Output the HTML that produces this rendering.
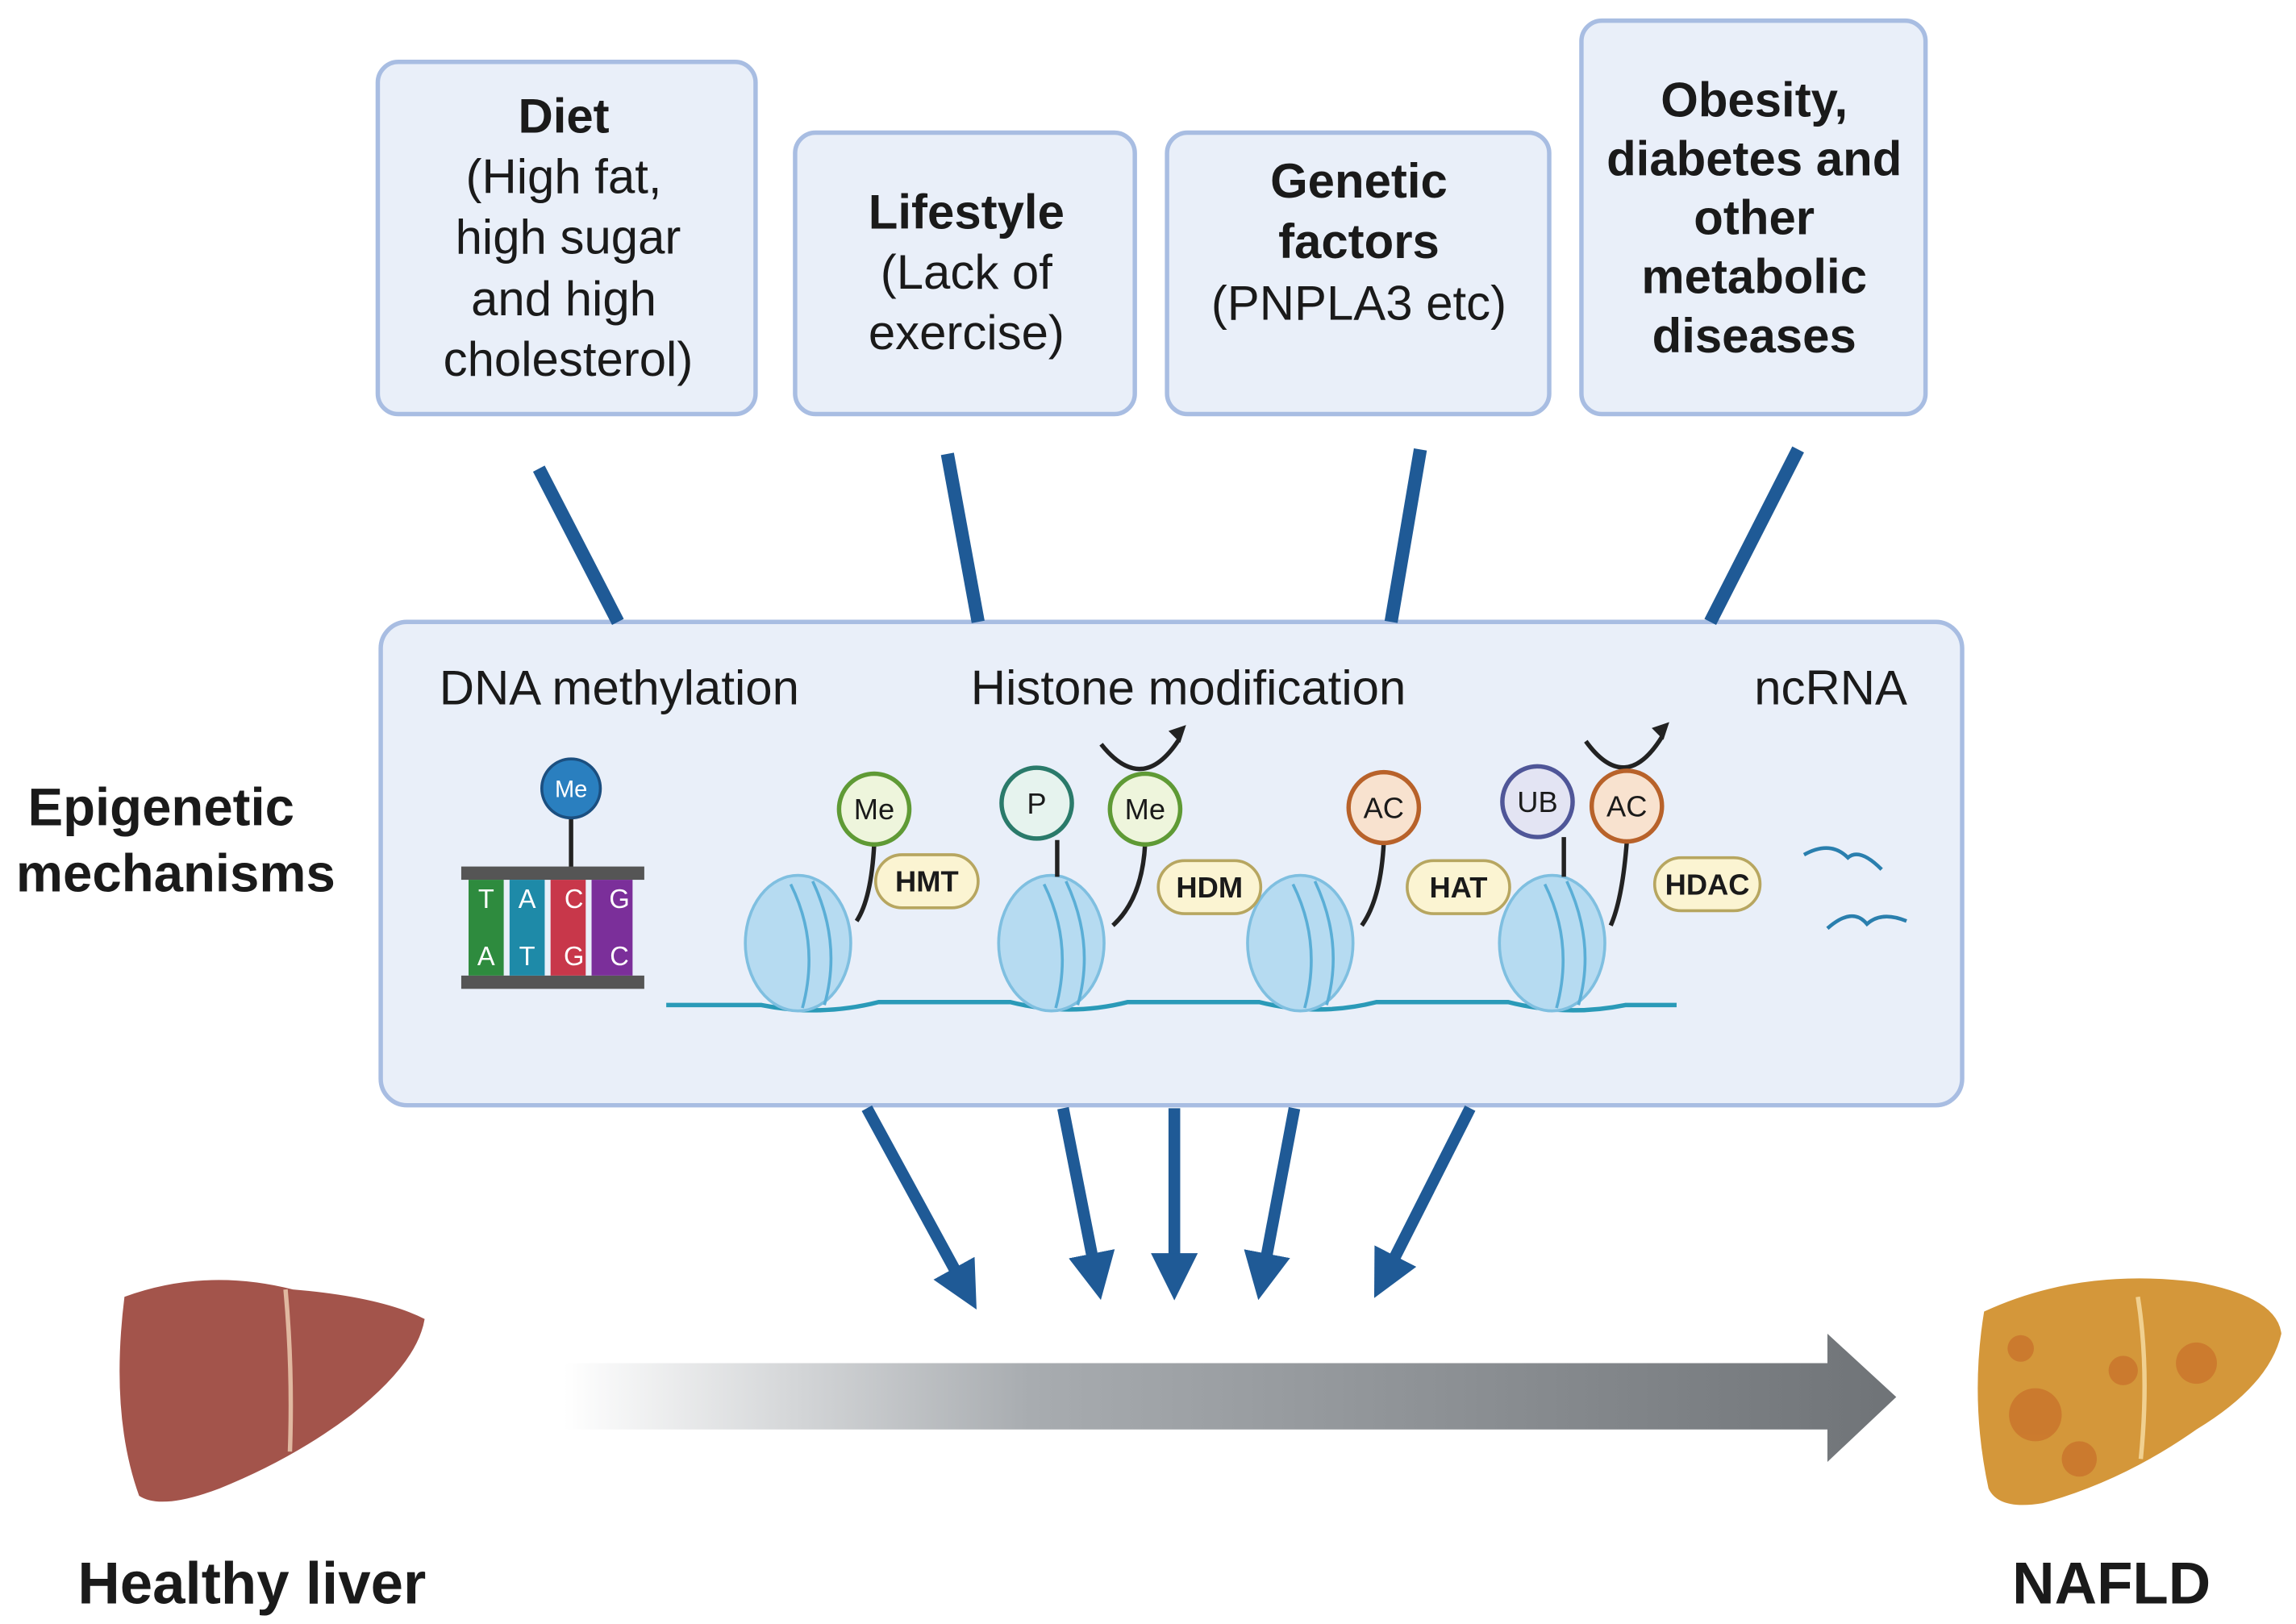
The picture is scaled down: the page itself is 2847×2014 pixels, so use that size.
<!DOCTYPE html>
<html><head><meta charset="utf-8"><style>
html,body{margin:0;padding:0;background:#fff;}
svg{display:block;}
text{font-family:"Liberation Sans",sans-serif;fill:#1a1a1a;}
.b{font-weight:bold;}
</style></head><body>
<svg width="2847" height="2014" viewBox="0 0 1568 1102" preserveAspectRatio="none" xmlns="http://www.w3.org/2000/svg">
<defs>
<linearGradient id="g" x1="0" x2="1" y1="0" y2="0">
<stop offset="0" stop-color="#ffffff"/><stop offset="0.35" stop-color="#a8acb0"/><stop offset="1" stop-color="#6f7377"/>
</linearGradient>
<marker id="ah" markerWidth="4" markerHeight="4" refX="2.2" refY="2" orient="auto" markerUnits="strokeWidth">
<path d="M0,0 L4,2 L0,4 Z" fill="#1f5a96"/></marker>
</defs>
<g fill="#e9eff9" stroke="#a8bde2" stroke-width="3">
<rect x="258" y="42" width="258" height="239" rx="14"/>
<rect x="543" y="90" width="232" height="191" rx="14"/>
<rect x="797" y="90" width="261" height="191" rx="14"/>
<rect x="1080" y="14" width="235" height="267" rx="14"/>
<rect x="260" y="422" width="1080" height="328" rx="18"/>
</g>
<g font-size="33" text-anchor="middle">
<text x="385" y="90" class="b">Diet</text>
<text x="385" y="131">(High fat,</text>
<text x="388" y="172">high sugar</text>
<text x="385" y="214">and high</text>
<text x="388" y="255">cholesterol)</text>
<text x="660" y="155" class="b">Lifestyle</text>
<text x="660" y="196">(Lack of</text>
<text x="660" y="237">exercise)</text>
<text x="928" y="134" class="b">Genetic</text>
<text x="928" y="175" class="b">factors</text>
<text x="928" y="217">(PNPLA3 etc)</text>
<text x="1198" y="79" class="b">Obesity,</text>
<text x="1198" y="119" class="b">diabetes and</text>
<text x="1198" y="159" class="b">other</text>
<text x="1198" y="199" class="b">metabolic</text>
<text x="1198" y="239" class="b">diseases</text>
</g>
<g stroke="#1f5a96" stroke-width="9">
<line x1="368" y1="318" x2="422" y2="422"/>
<line x1="647" y1="308" x2="668" y2="422"/>
<line x1="970" y1="305" x2="950" y2="422"/>
<line x1="1228" y1="305" x2="1168" y2="422"/>
</g>
<g stroke="#1f5a96" stroke-width="8" marker-end="url(#ah)">
<line x1="592" y1="752" x2="660" y2="876"/>
<line x1="726" y1="752" x2="749" y2="868"/>
<line x1="802" y1="752" x2="802" y2="868"/>
<line x1="884" y1="752" x2="862" y2="868"/>
<line x1="1004" y1="752" x2="945" y2="868"/>
</g>
<g font-size="33">
<text x="300" y="478">DNA methylation</text>
<text x="663" y="478">Histone modification</text>
<text x="1198" y="478">ncRNA</text>
</g>
<g text-anchor="middle">
<text x="110" y="560" font-size="36" class="b">Epigenetic</text>
<text x="120" y="605" font-size="36" class="b">mechanisms</text>
<text x="172" y="1088" font-size="40" class="b">Healthy liver</text>
<text x="1442" y="1088" font-size="40" class="b">NAFLD</text>
</g>
<line x1="390" y1="548" x2="390" y2="590" stroke="#222" stroke-width="3"/>
<circle cx="390" cy="535" r="20" fill="#2a7fbf" stroke="#1b4f80" stroke-width="2"/>
<text x="390" y="541" font-size="16" text-anchor="middle" style="fill:#fff">Me</text>
<rect x="315" y="588" width="125" height="9" fill="#555"/>
<rect x="315" y="662" width="125" height="9" fill="#555"/>
<rect x="320" y="597" width="24" height="65" fill="#2e8b3e"/>
<rect x="348" y="597" width="24" height="65" fill="#1e8aa8"/>
<rect x="376" y="597" width="24" height="65" fill="#c8374a"/>
<rect x="404" y="597" width="28" height="65" fill="#7b2f9a"/>
<g font-size="18" text-anchor="middle">
<text x="332" y="616" style="fill:#fff">T</text><text x="360" y="616" style="fill:#fff">A</text><text x="392" y="616" style="fill:#fff">C</text><text x="423" y="616" style="fill:#fff">G</text>
<text x="332" y="655" style="fill:#fff">A</text><text x="360" y="655" style="fill:#fff">T</text><text x="392" y="655" style="fill:#fff">G</text><text x="423" y="655" style="fill:#fff">C</text>
</g>
<path d="M455 682 L520 682 Q560 690 600 680 L690 680 Q730 690 770 680 L860 680 Q900 690 940 680 L1030 680 Q1070 690 1110 682 L1145 682" fill="none" stroke="#2a9ab8" stroke-width="3"/>
<g fill="#b6dbf1" stroke="#7fbfe0" stroke-width="2">
<ellipse cx="545" cy="640" rx="36" ry="46"/><ellipse cx="718" cy="640" rx="36" ry="46"/>
<ellipse cx="888" cy="640" rx="36" ry="46"/><ellipse cx="1060" cy="640" rx="36" ry="46"/>
</g>
<g stroke="#5aaed6" stroke-width="2" fill="none">
<path d="M540 600 Q560 640 548 684"/><path d="M555 598 Q575 640 563 682"/>
<path d="M713 600 Q733 640 721 684"/><path d="M728 598 Q748 640 736 682"/>
<path d="M883 600 Q903 640 891 684"/><path d="M898 598 Q918 640 906 682"/>
<path d="M1055 600 Q1075 640 1063 684"/><path d="M1070 598 Q1090 640 1078 682"/>
</g>
<g stroke="#222" stroke-width="3" fill="none">
<path d="M597 573 Q595 610 585 625"/><path d="M722 570 L722 595"/><path d="M782 573 Q780 610 760 628"/>
<path d="M945 572 Q943 610 930 628"/><path d="M1068 568 L1068 595"/><path d="M1111 571 Q1108 610 1100 628"/>
<path d="M752 505 Q780 540 805 502"/><path d="M1083 503 Q1110 540 1135 500"/>
</g>
<path d="M798 496 L810 492 L806 504 Z" fill="#222"/><path d="M1128 494 L1140 490 L1136 502 Z" fill="#222"/>
<g stroke-width="3">
<circle cx="597" cy="549" r="24" fill="#eef5dc" stroke="#5f9a35"/>
<circle cx="708" cy="545" r="24" fill="#e6f3ee" stroke="#2a7a6a"/>
<circle cx="782" cy="549" r="24" fill="#eef5dc" stroke="#5f9a35"/>
<circle cx="945" cy="548" r="24" fill="#f8e2cf" stroke="#b8622a"/>
<circle cx="1050" cy="544" r="24" fill="#e3e4f3" stroke="#4f5698"/>
<circle cx="1111" cy="547" r="24" fill="#f8e2cf" stroke="#b8622a"/>
</g>
<g fill="#fbf4d2" stroke="#b7a660" stroke-width="2">
<rect x="598" y="580" width="70" height="36" rx="18"/><rect x="791" y="584" width="70" height="36" rx="18"/>
<rect x="961" y="584" width="70" height="36" rx="18"/><rect x="1130" y="582" width="72" height="36" rx="18"/>
</g>
<g font-size="20" text-anchor="middle">
<text x="597" y="556">Me</text><text x="708" y="552">P</text><text x="782" y="556">Me</text>
<text x="945" y="555">AC</text><text x="1050" y="551">UB</text><text x="1111" y="554">AC</text>
<text x="633" y="605" class="b">HMT</text><text x="826" y="609" class="b">HDM</text>
<text x="996" y="609" class="b">HAT</text><text x="1166" y="607" class="b">HDAC</text>
</g>
<g stroke="#2a7fae" stroke-width="2.5" fill="none">
<path d="M1232 580 Q1250 570 1262 582 Q1270 575 1285 590"/><path d="M1248 630 Q1265 615 1275 627 Q1285 618 1302 625"/>
</g>
<path d="M385 925 L1248 925 L1248 905 L1295 948 L1248 992 L1248 970 L385 970 Z" fill="url(#g)"/>
<path d="M85 880 Q140 860 200 875 Q260 880 290 895 Q285 925 240 960 Q200 990 150 1010 Q110 1025 95 1015 Q75 960 85 880 Z" fill="#a3544b"/>
<path d="M195 875 Q200 930 198 985" stroke="#e0b8a0" stroke-width="3" fill="none"/>
<path d="M1355 890 Q1420 860 1500 870 Q1555 880 1558 905 Q1550 940 1500 970 Q1450 1005 1395 1020 Q1365 1025 1358 1010 Q1345 950 1355 890 Z" fill="#d4973a"/>
<g fill="#c9742c" opacity="0.8">
<circle cx="1390" cy="960" r="18"/><circle cx="1420" cy="990" r="12"/><circle cx="1500" cy="925" r="14"/><circle cx="1450" cy="930" r="10"/><circle cx="1380" cy="915" r="9"/>
</g>
<path d="M1460 880 Q1468 930 1462 990" stroke="#f0d090" stroke-width="3" fill="none"/>
</svg>
</body></html>
